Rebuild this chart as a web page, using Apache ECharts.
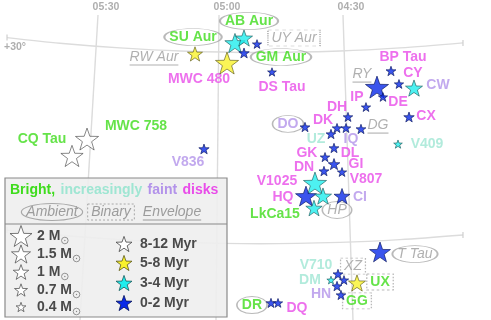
<!DOCTYPE html>
<html><head><meta charset="utf-8">
<script src="https://cdn.jsdelivr.net/npm/echarts@6/dist/echarts.min.js"></script>
<style>html,body{margin:0;padding:0;background:#fff}#c{width:491px;height:320px}</style>
</head><body><div id="c"></div>
<script>
// ---------------- data (plane coordinates: RA minutes after 04h, Dec degrees) ----------------
const raTickLabels = ['05:30', '05:00', '04:30'];
const meridianTopRA = [89.25, 59.92, 29.87];
const meridianBottomRA = [93.61, 60.65, 27.45];
const meridianTopDec = 31.73;
const meridianBottomDec = 16.0;
const decTickLabels = ['+30°'];
const parallelRA = [111.30, 98.46, 83.92, 69.37, 49.99, 30.60, 16.06, 0.79];
const parallel30Dec = [30.561, 30.272, 30.030, 29.870, 29.793, 29.870, 30.030, 30.288];
const parallel20Dec = [20.635, 20.367, 20.145, 20.000, 19.928, 20.000, 20.145, 20.382];

const starRA   = [65.74, 57.98, 56.05, 53.86, 50.71, 53.86, 47.08, 18.24, 21.63, 16.30, 12.66, 20.18, 24.30, 28.66, 13.87,
                  31.32, 29.14, 25.51, 39.08, 32.78, 16.54, 32.05, 34.23, 32.05, 30.11, 34.48, 36.66, 38.84, 34.72, 30.11,
                  36.90, 20.90, 31.08, 32.78, 29.63, 31.32, 26.48, 30.36, 47.32, 45.62, 91.91, 95.55, 63.56];
const starDec  = [29.72, 29.25, 30.28, 30.54, 30.23, 29.77, 28.79, 28.84, 28.01, 28.17, 27.96, 27.50, 26.98, 26.47, 26.47,
                  25.90, 25.90, 25.85, 25.95, 25.59, 25.07, 24.87, 24.40, 24.04, 23.63, 23.68, 23.06, 22.39, 22.39, 22.39,
                  21.77, 19.51, 18.37, 18.06, 18.06, 17.75, 17.91, 17.29, 16.88, 16.88, 25.33, 24.46, 24.82];
const starMass = [0.93, 2.2, 1.7, 1.2, 0.35, 0.45, 0.32, 0.41, 2.2, 0.36, 1.2, 0.35, 0.36, 0.38, 0.45,
                  0.38, 0.38, 0.4, 0.4, 0.4, 0.31, 0.4, 0.38, 0.56, 0.36, 0.41, 2.2, 1.8, 1.2, 1.05,
                  1.1, 1.8, 0.41, 0.28, 0.36, 0.41, 1.2, 0.39, 0.39, 0.36, 2.2, 2.05, 0.44];
const starAge  = [1, 1, 2, 2, 3, 3, 3, 3, 3, 3, 2, 3, 3, 3, 3,
                  3, 3, 3, 3, 3, 2, 3, 3, 3, 3, 3, 2, 3, 2, 3,
                  2, 3, 3, 2, 3, 3, 1, 3, 3, 3, 0, 0, 3];

const ageGroups = ['8-12 Myr', '5-8 Myr', '3-4 Myr', '0-2 Myr'];
const massKeys = [2, 1.5, 1, 0.7, 0.4];
const massKeyLabels = ['2 M', '1.5 M', '1 M', '0.7 M', '0.4 M'];

const labelNames = ['SU Aur', 'AB Aur', 'UY Aur', 'GM Aur', 'DS Tau', 'MWC 480', 'RW Aur', 'BP Tau', 'CY', 'CW',
                    'RY', 'IP', 'DE', 'DH', 'CX', 'DK', 'DO', 'DG', 'UZ', 'IQ',
                    'V409', 'GK', 'DL', 'DN', 'GI', 'V807', 'V1025', 'HQ', 'CI', 'LkCa15',
                    'HP', 'CQ Tau', 'MWC 758', 'V836', 'T Tau', 'V710', 'XZ', 'DM', 'UX', 'HN', 'GG', 'DR', 'DQ'];
const labelRA  = [66.22, 52.65, 41.75, 44.90, 44.65, 64.77, 75.68, 15.33, 12.91, 6.85,
                  25.27, 26.48, 16.54, 31.32, 9.75, 34.72, 43.20, 21.39, 36.41, 27.93,
                  9.51, 38.60, 28.17, 39.32, 26.72, 24.30, 45.87, 44.41, 25.75, 46.35,
                  31.32, 102.82, 80.04, 67.44, 12.42, 36.41, 27.45, 37.87, 20.90, 35.20, 26.48, 51.93, 41.02];
const labelDec = [30.59, 31.42, 30.54, 29.56, 28.01, 28.43, 29.56, 29.56, 28.74, 28.12,
                  28.68, 27.50, 27.24, 26.98, 26.52, 26.31, 26.11, 26.05, 25.33, 25.33,
                  25.07, 24.61, 24.61, 23.89, 24.04, 23.27, 23.17, 22.34, 22.34, 21.47,
                  21.67, 25.33, 26.00, 24.15, 19.40, 18.84, 18.78, 18.06, 17.96, 17.34, 16.98, 16.77, 16.62];
// brightness class: bright / increasing / faint / disk / none
const labelClass = ['bright', 'bright', 'none', 'bright', 'disk', 'disk', 'none', 'disk', 'disk', 'faint',
                    'none', 'disk', 'disk', 'disk', 'disk', 'disk', 'faint', 'none', 'increasing', 'faint',
                    'increasing', 'disk', 'disk', 'disk', 'disk', 'disk', 'disk', 'disk', 'faint', 'bright',
                    'none', 'bright', 'bright', 'faint', 'none', 'increasing', 'none', 'increasing', 'bright', 'faint', 'bright', 'bright', 'disk'];
// environment: ambient / binary / envelope / ''
const labelEnv = ['ambient', 'ambient', 'binary', 'ambient', '', '', 'envelope', '', '', '',
                  'envelope', '', '', '', '', '', 'ambient', 'envelope', '', '',
                  '', '', '', '', '', '', '', '', '', '',
                  'ambient', '', '', '', 'ambient', '', 'binary', '', 'binary', '', 'binary', 'ambient', ''];

// ---------------- styling ----------------
const STAR = 'M100,0 L123.51,67.64 L195.11,69.1 L138.04,112.36 L158.78,180.9 L100,140 L41.22,180.9 L61.96,112.36 L4.89,69.1 L76.49,67.64 Z';
const ageColors = ['#ffffff', '#f9f22c', '#20eeee', '#0a2ae8'];
const ageBorders = ['#444444', '#5c5818', '#1a5c5c', '#04125a'];
const classColors = {bright: '#3edc1c', increasing: '#9fe6d3', faint: '#b393ea', disk: '#e94ce9', none: '#9c9c9c'};
const FF = '"Liberation Sans", Arial, sans-serif';
const GRID = '#dcdcdc';
const sizeForMass = m => 15.56 * Math.sqrt(m);

const ctx = document.createElement('canvas').getContext('2d');
function textW(t, font) { ctx.font = font; return ctx.measureText(t).width; }
function fontFor(cls) { return cls === 'none' ? 'italic 14px ' + FF : 'bold 14px ' + FF; }

// ---------------- series ----------------
const series = [];
meridianTopRA.forEach((ra, i) => {
  series.push({type: 'line', silent: true, symbol: 'none', z: 1,
    data: [[ra, meridianTopDec], [meridianBottomRA[i], meridianBottomDec]],
    lineStyle: {color: GRID, width: 1.4}});
});
[parallel30Dec, parallel20Dec].forEach(decs => {
  series.push({type: 'line', silent: true, z: 1, smooth: 0.3,
    data: parallelRA.map((ra, j) => ({value: [ra, decs[j]],
      symbol: (j === 0 || j === parallelRA.length - 1) ? 'rect' : 'none'})),
    symbolSize: [1.2, 6], itemStyle: {color: '#cfcfcf'},
    lineStyle: {color: GRID, width: 1.4}});
});
// tick labels
series.push({type: 'scatter', silent: true, z: 2, symbolSize: 1, itemStyle: {color: 'rgba(0,0,0,0)'},
  data: meridianTopRA.map((ra, i) => ({name: raTickLabels[i], value: [ra, meridianTopDec]})),
  label: {show: true, position: 'inside', formatter: '{b}', offset: [8, -8],
    color: '#9a9a9a', fontFamily: FF, fontWeight: 'bold', fontSize: 10.5}});
series.push({type: 'scatter', silent: true, z: 2, symbolSize: 1, itemStyle: {color: 'rgba(0,0,0,0)'},
  data: [{name: decTickLabels[0], value: [parallelRA[0], parallel30Dec[0]]}],
  label: {show: true, position: 'inside', formatter: '{b}', offset: [8, 10],
    color: '#9a9a9a', fontFamily: FF, fontWeight: 'bold', fontSize: 10.5}});

// decorations
const ell = [], box = [], und = [];
labelNames.forEach((n, i) => {
  const w = textW(n, fontFor(labelClass[i]));
  const v = [labelRA[i], labelDec[i]];
  if (labelEnv[i] === 'ambient') ell.push({value: v, symbolSize: [w + 10, 17]});
  if (labelEnv[i] === 'binary') box.push({value: v, symbolSize: [w + 7, 16]});
  if (labelEnv[i] === 'envelope') und.push({value: v, symbolSize: [w, 1.1]});
});
series.push({type: 'scatter', silent: true, z: 3, symbol: 'circle', data: ell,
  itemStyle: {color: 'rgba(255,255,255,0)', borderColor: '#a8a8a8', borderWidth: 1.2}});
series.push({type: 'scatter', silent: true, z: 3, symbol: 'rect', data: box,
  itemStyle: {color: 'rgba(255,255,255,0)', borderColor: '#a8a8a8', borderWidth: 1, borderType: [2, 2]}});
series.push({type: 'scatter', silent: true, z: 3, symbol: 'rect', data: und, symbolOffset: [0, 8],
  itemStyle: {color: '#9c9c9c'}});

// labels
series.push({type: 'scatter', silent: true, z: 4, symbolSize: 1, itemStyle: {color: 'rgba(0,0,0,0)'},
  data: labelNames.map((n, i) => ({name: n, value: [labelRA[i], labelDec[i]],
    label: {color: classColors[labelClass[i]],
      fontStyle: labelClass[i] === 'none' ? 'italic' : 'normal',
      fontWeight: labelClass[i] === 'none' ? 'normal' : 'bold'}})),
  label: {show: true, position: 'inside', formatter: '{b}', fontSize: 14, fontFamily: FF}});

// stars (largest drawn first)
const order = starRA.map((_, i) => i).sort((a, b) => starMass[b] - starMass[a]);
series.push({type: 'scatter', silent: true, z: 5, symbol: 'path://' + STAR, symbolKeepAspect: true,
  data: order.map(i => ({value: [starRA[i], starDec[i]], symbolSize: sizeForMass(starMass[i]),
    itemStyle: {color: ageColors[starAge[i]], borderColor: ageBorders[starAge[i]], borderWidth: 0.8}}))});

// ---------------- key box (graphic) ----------------
const G = [];
const Z = 100;
G.push({type: 'rect', z: Z, shape: {x: 5, y: 178, width: 222, height: 139},
  style: {fill: 'rgba(238,238,238,0.9)', stroke: '#8a8a8a', lineWidth: 1.2}});
G.push({type: 'line', z: Z, shape: {x1: 5, y1: 224, x2: 227, y2: 224}, style: {stroke: '#8a8a8a', lineWidth: 1.2}});
function txt(t, x, y, font, fill, align) {
  G.push({type: 'text', z: Z + 1, x: x, y: y, style: {text: t, font: font, fill: fill,
    align: align || 'left', textAlign: align || 'left', verticalAlign: 'middle', textVerticalAlign: 'middle'}});
}
const bf = 'bold 14px ' + FF, itf = 'italic 14px ' + FF;
const titleParts = [['Bright, ', 'bright'], ['increasingly ', 'increasing'], ['faint ', 'faint'], ['disks', 'disk']];
let tx = 10;
titleParts.forEach(p => { txt(p[0], tx, 190, bf, classColors[p[1]]); tx += textW(p[0], bf) + 1.5; });
const envY = 212;
txt('Ambient', 52, envY, itf, '#9c9c9c', 'center');
G.push({type: 'ellipse', z: Z + 1, shape: {cx: 52, cy: envY, rx: (textW('Ambient', itf) + 10) / 2, ry: 8.5},
  style: {fill: 'none', stroke: '#a8a8a8', lineWidth: 1.2}});
const bw = textW('Binary', itf) + 7;
txt('Binary', 111, envY, itf, '#9c9c9c', 'center');
G.push({type: 'rect', z: Z + 1, shape: {x: 111 - bw / 2, y: envY - 8, width: bw, height: 16},
  style: {fill: 'none', stroke: '#a8a8a8', lineWidth: 1, lineDash: [2, 2]}});
const ew = textW('Envelope', itf);
txt('Envelope', 172, envY, itf, '#9c9c9c', 'center');
G.push({type: 'line', z: Z + 1, shape: {x1: 172 - ew / 2, y1: envY + 8, x2: 172 + ew / 2, y2: envY + 8},
  style: {stroke: '#9c9c9c', lineWidth: 1.1}});
// star polygon for the key
function starPts(cx, cy, s) {
  const R = s / 1.9022, r = R * 0.4, pts = [];
  const oy = cy + R * 0.0955;
  for (let k = 0; k < 10; k++) {
    const a = (-90 + k * 36) * Math.PI / 180, rr = k % 2 ? r : R;
    pts.push([cx + rr * Math.cos(a), oy + rr * Math.sin(a)]);
  }
  return pts;
}
function starG(cx, cy, s, fill, stroke) {
  G.push({type: 'polygon', z: Z + 1, shape: {points: starPts(cx, cy, s)},
    style: {fill: fill, stroke: stroke, lineWidth: 0.8}});
}
const massY = [236, 254, 272, 290, 307];
massKeys.forEach((m, i) => {
  starG(21, massY[i], sizeForMass(m), '#ffffff', '#555555');
  txt(massKeyLabels[i], 37, massY[i], bf, '#4a4a4a');
  const cx = 37 + textW(massKeyLabels[i], bf) + 4.5;
  G.push({type: 'circle', z: Z + 1, shape: {cx: cx, cy: massY[i] + 4.5, r: 3.3}, style: {fill: 'none', stroke: '#888', lineWidth: 0.9}});
  G.push({type: 'circle', z: Z + 1, shape: {cx: cx, cy: massY[i] + 4.5, r: 0.7}, style: {fill: '#888'}});
});
const ageY = [244, 263, 283, 303];
ageGroups.forEach((a, i) => {
  starG(124, ageY[i], sizeForMass(1.05), ageColors[i], ageBorders[i]);
  txt(a, 140, ageY[i], bf, '#4a4a4a');
});

const chart = echarts.init(document.getElementById('c'), null, {renderer: 'canvas'});
chart.setOption({
  animation: false,
  grid: {left: 0, right: 0, top: 0, bottom: 0},
  xAxis: {type: 'value', min: -6, max: 113, inverse: true, show: false},
  yAxis: {type: 'value', min: 16, max: 32.5, show: false},
  series: series,
  graphic: {elements: G}
});
</script></body></html>
